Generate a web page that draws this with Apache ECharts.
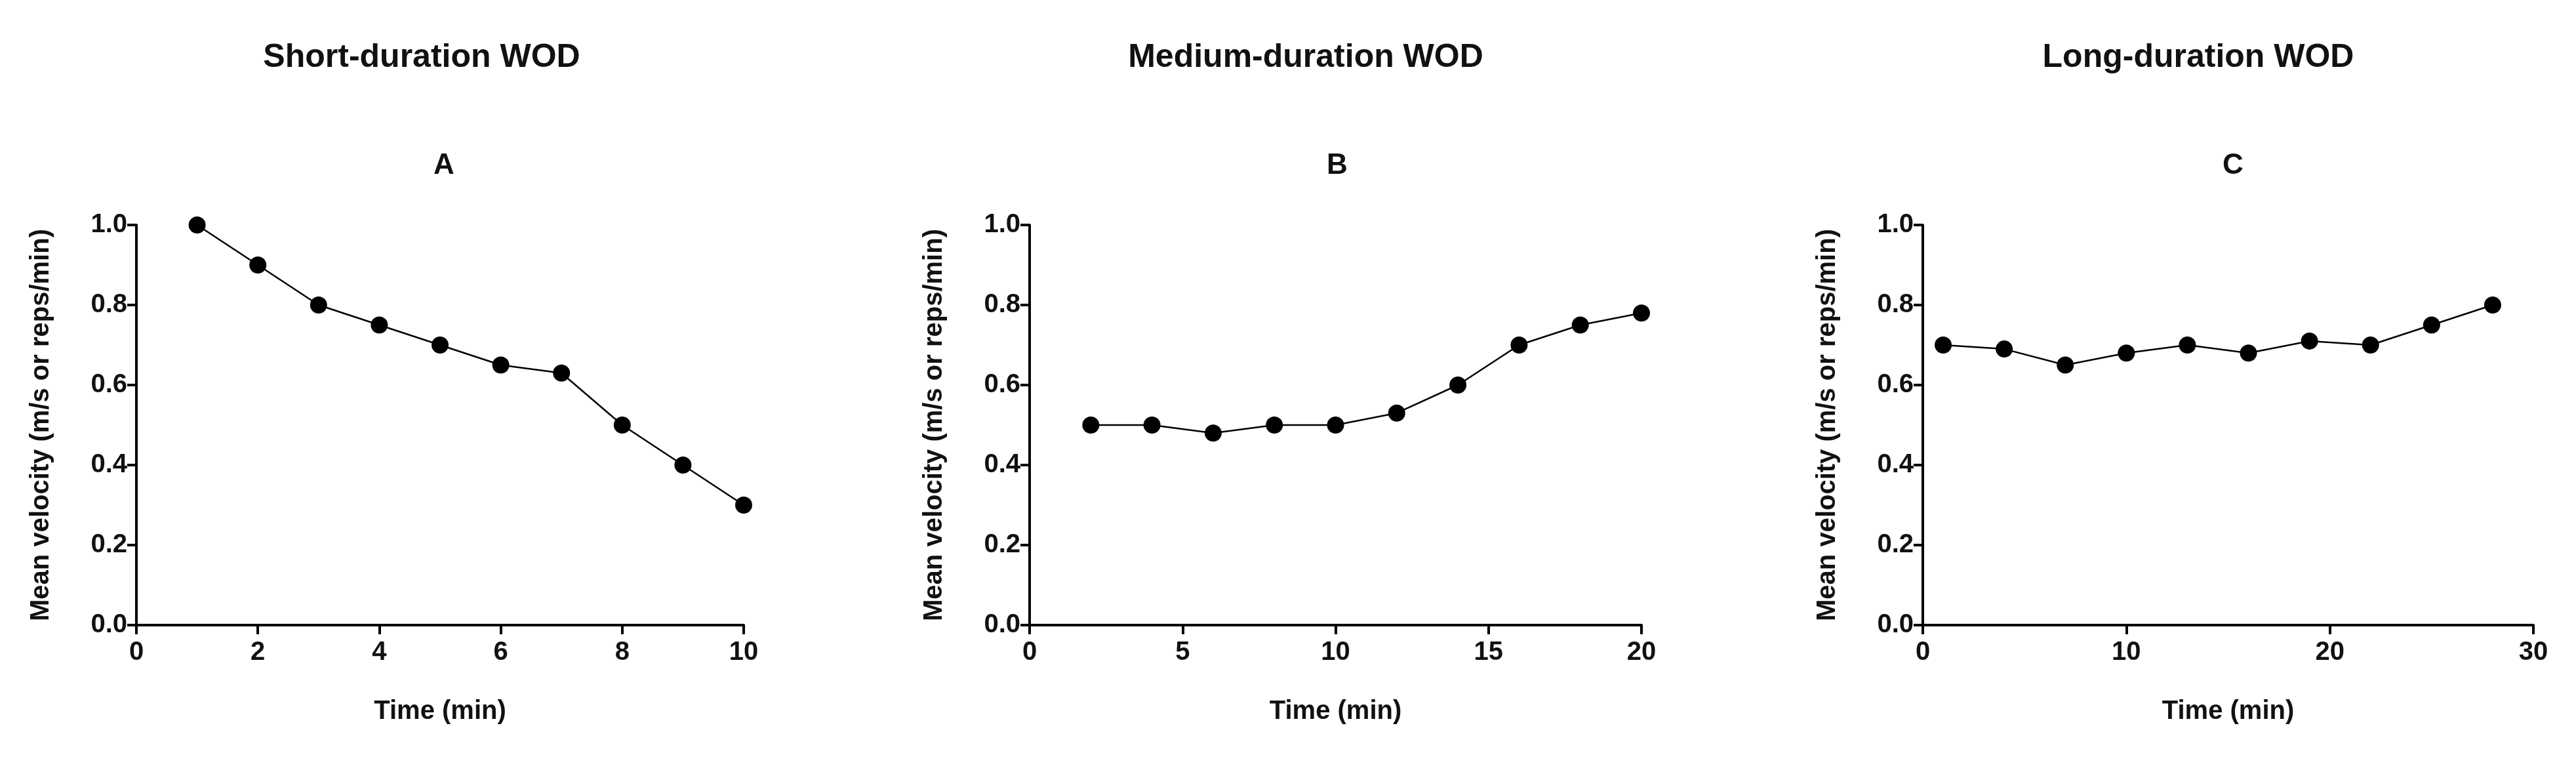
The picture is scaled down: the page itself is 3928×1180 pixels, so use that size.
<!DOCTYPE html>
<html>
<head>
<meta charset="utf-8">
<script src="https://cdn.jsdelivr.net/npm/echarts@6/dist/echarts.min.js"></script>
<style>html,body{margin:0;padding:0;background:#fff}#main{width:3928px;height:1180px}</style>
</head>
<body>
<div id="main"></div>
<script>
var timeA = [1, 2, 3, 4, 5, 6, 7, 8, 9, 10];
var velA = [1.0, 0.9, 0.8, 0.75, 0.7, 0.65, 0.63, 0.5, 0.4, 0.3];
var timeB = [2, 4, 6, 8, 10, 12, 14, 16, 18, 20];
var velB = [0.5, 0.5, 0.48, 0.5, 0.5, 0.53, 0.6, 0.7, 0.75, 0.78];
var timeC = [1, 4, 7, 10, 13, 16, 19, 22, 25, 28];
var velC = [0.7, 0.69, 0.65, 0.68, 0.7, 0.68, 0.71, 0.7, 0.75, 0.8];
var groupTitles = ['Short-duration WOD', 'Medium-duration WOD', 'Long-duration WOD'];
var panelLetters = ['A', 'B', 'C'];
var xMax = [10, 20, 30];
var xStep = [2, 5, 10];

var font = '"Liberation Sans", Arial, sans-serif';
var panels = [
    {left: 208, right: 1134, title: 638, letter: 672, x: timeA, y: velA},
    {left: 1570, right: 2503, title: 1986, letter: 2034, x: timeB, y: velB},
    {left: 2932, right: 3863, title: 3347, letter: 3400, x: timeC, y: velC}
];

var myChart = echarts.init(document.getElementById('main'));
var option = {grid: [], xAxis: [], yAxis: [], series: [], title: []};

panels.forEach(function (p, i) {
    option.grid.push({left: p.left, width: p.right - p.left, top: 343, height: 610});
    option.title.push({
        text: groupTitles[i], left: p.title, top: 58, textAlign: 'center',
        textStyle: {fontFamily: font, fontWeight: 'bold', fontSize: 50, color: '#111'}
    });
    option.title.push({
        text: panelLetters[i], left: p.letter, top: 226, textAlign: 'center',
        textStyle: {fontFamily: font, fontWeight: 'bold', fontSize: 44, color: '#111'}
    });
    option.xAxis.push({
        type: 'value', gridIndex: i, min: 0, max: xMax[i], interval: xStep[i],
        name: 'Time (min)', nameLocation: 'middle', nameGap: 112,
        nameTextStyle: {fontFamily: font, fontWeight: 'bold', fontSize: 40, color: '#111'},
        axisLine: {lineStyle: {color: '#000', width: 4}},
        axisTick: {length: 14, lineStyle: {color: '#000', width: 4}},
        axisLabel: {fontFamily: font, fontWeight: 'bold', fontSize: 40, color: '#111', margin: 22},
        splitLine: {show: false}
    });
    option.yAxis.push({
        type: 'value', gridIndex: i, min: 0, max: 1, interval: 0.2,
        name: 'Mean velocity (m/s or reps/min)', nameLocation: 'middle', nameGap: 125,
        nameTextStyle: {fontFamily: font, fontWeight: 'bold', fontSize: 40, color: '#111'},
        axisLine: {show: true, lineStyle: {color: '#000', width: 4}},
        axisTick: {show: true, length: 14, lineStyle: {color: '#000', width: 4}},
        axisLabel: {fontFamily: font, fontWeight: 'bold', fontSize: 40, color: '#111', margin: 14,
            formatter: function (v) { return v.toFixed(1); }},
        splitLine: {show: false}
    });
    option.series.push({
        type: 'line', xAxisIndex: i, yAxisIndex: i,
        data: p.x.map(function (t, k) { return [t, p.y[k]]; }),
        symbol: 'circle', symbolSize: 26,
        itemStyle: {color: '#000'},
        lineStyle: {color: '#000', width: 2.5},
        animation: false
    });
});

myChart.setOption(option);
</script>
</body>
</html>
